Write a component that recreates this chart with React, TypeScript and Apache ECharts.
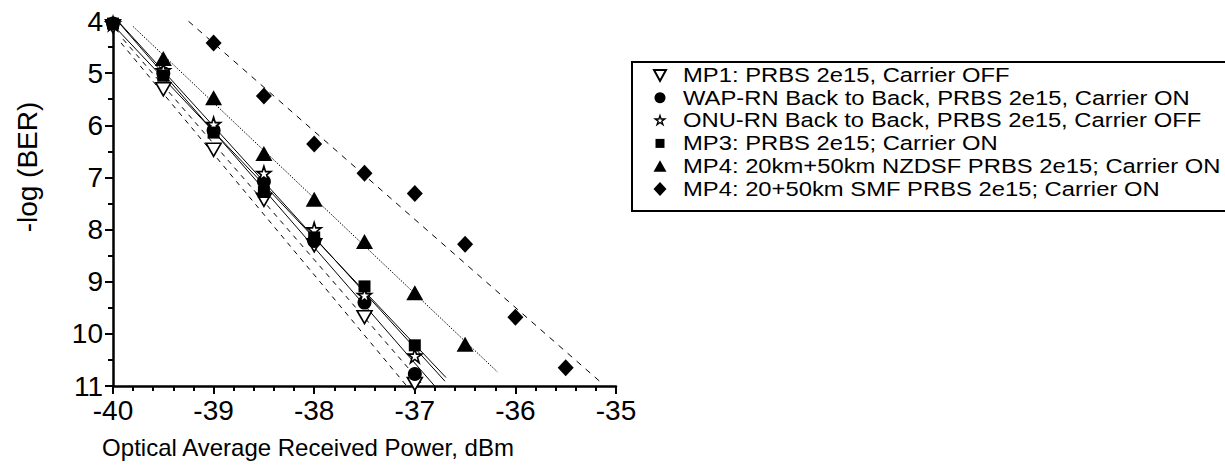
import React, { useEffect, useRef } from "react";
import * as echarts from "echarts";

// ---- data ----
const xMP1 = [-40, -39.5, -39, -38.5, -38, -37.5, -37];
const yMP1 = [4.1, 5.31, 6.47, 7.43, 8.3, 9.68, 10.96];

const xWAP = [-40, -39.5, -39, -38.5, -38, -37.5, -37];
const yWAP = [4.05, 5.0, 6.1, 7.08, 8.22, 9.4, 10.77];

const xONU = [-40, -39.5, -39, -38.5, -38, -37.5, -37];
const yONU = [4.05, 4.95, 5.98, 6.92, 8.0, 9.26, 10.42];

const xMP3 = [-40, -39.5, -39, -38.5, -38, -37.5, -37];
const yMP3 = [4.05, 5.05, 6.14, 7.28, 8.15, 9.09, 10.22];

const xNZDSF = [-39.5, -39, -38.5, -38, -37.5, -37, -36.5];
const yNZDSF = [4.72, 5.47, 6.54, 7.42, 8.23, 9.21, 10.2];

const xSMF = [-39, -38.5, -38, -37.5, -37, -36.5, -36, -35.5];
const ySMF = [4.42, 5.44, 6.36, 6.92, 7.31, 8.28, 9.68, 10.65];

// second dashed guide line (end points)
const xGuide = [-39.92, -37.08];
const yGuide = [4.42, 11.0];

const seriesNames = [
  "MP1: PRBS 2e15, Carrier OFF",
  "WAP-RN Back to Back, PRBS 2e15, Carrier ON",
  "ONU-RN Back to Back, PRBS 2e15, Carrier OFF",
  "MP3: PRBS 2e15; Carrier ON",
  "MP4: 20km+50km NZDSF PRBS 2e15; Carrier ON",
  "MP4: 20+50km SMF PRBS 2e15; Carrier ON",
];

// x extent of each linear-fit line
const fitRangeMP1 = [-39.9, -36.9];
const fitRangeWAP = [-40, -36.8];
const fitRangeONU = [-40, -36.7];
const fitRangeMP3 = [-40, -36.69];
const fitRangeNZDSF = [-39.8, -36.18];
const fitRangeSMF = [-39.25, -35.15];

const xTicks = [-40, -39, -38, -37, -36, -35];
const yTicks = [4, 5, 6, 7, 8, 9, 10, 11];

// star outline in a 100x100 box
const STAR_PTS = [
  [50, 0], [61.2, 34.5], [97.6, 34.5], [68.2, 55.9], [79.4, 90.5],
  [50, 69.1], [20.6, 90.5], [31.8, 55.9], [2.4, 34.5], [38.8, 34.5],
];
const STAR = "path://M" + STAR_PTS.map((p) => p.join(",")).join(" L") + " Z";
const DOWN_TRI = "path://M0,0 L100,0 L50,90 Z";

function fit(xs: number[], ys: number[], range: number[]) {
  const n = xs.length;
  const mx = xs.reduce((a, b) => a + b, 0) / n;
  const my = ys.reduce((a, b) => a + b, 0) / n;
  let sxy = 0;
  let sxx = 0;
  for (let i = 0; i < n; i++) {
    sxy += (xs[i] - mx) * (ys[i] - my);
    sxx += (xs[i] - mx) * (xs[i] - mx);
  }
  const b = sxy / sxx;
  const a = my - b * mx;
  return range.map((x) => [x, a + b * x]);
}

const zip = (xs: number[], ys: number[]) => xs.map((x, i) => [x, ys[i]]);

export default function App() {
  const ref = useRef<HTMLDivElement>(null);
  useEffect(() => {
    if (!ref.current) return;
    const chart = echarts.init(ref.current, undefined, { renderer: "svg" });
    const font = "Liberation Sans, Arial, sans-serif";
    const black = "#000";
    const scatter = (
      name: string,
      data: number[][],
      symbol: string,
      size: number | number[],
      filled: boolean
    ) => ({
      type: "scatter",
      name,
      data,
      symbol,
      symbolSize: size,
      z: 5,
      itemStyle: filled
        ? { color: black, borderColor: black, borderWidth: 0, opacity: 1 }
        : { color: "#fff", borderColor: black, borderWidth: 1.6, opacity: 1 },
    });
    const fitLine = (data: number[][], type: any, width = 1) => ({
      type: "line",
      data,
      showSymbol: false,
      symbol: "none",
      silent: true,
      z: 3,
      lineStyle: { color: black, width, type },
    });

    // ---- legend drawn as graphic elements ----
    const LX = 632;
    const LY = 62;
    const symX = 660;
    const textX = 683;
    const row0 = 75;
    const rowH = 22.8;
    const filled = { fill: black, stroke: black, lineWidth: 0 };
    const open = { fill: "#fff", stroke: black, lineWidth: 2 };
    const legendKey = (i: number, cy: number): any => {
      const cx = symX;
      switch (i) {
        case 0:
          return { type: "polygon", shape: { points: [[cx - 6, cy - 5], [cx + 6, cy - 5], [cx, cy + 6]] }, style: open };
        case 1:
          return { type: "circle", shape: { cx, cy, r: 5.5 }, style: filled };
        case 2:
          return {
            type: "polygon",
            shape: { points: STAR_PTS.map((p) => [cx + (p[0] - 50) * 0.1, cy + (p[1] - 50) * 0.1]) },
            style: { fill: "#fff", stroke: black, lineWidth: 1.4 },
          };
        case 3:
          return { type: "rect", shape: { x: cx - 4.5, y: cy - 4.5, width: 9, height: 9 }, style: filled };
        case 4:
          return { type: "polygon", shape: { points: [[cx - 6.5, cy + 5.5], [cx + 6.5, cy + 5.5], [cx, cy - 6]] }, style: filled };
        default:
          return { type: "polygon", shape: { points: [[cx, cy - 7], [cx + 6.5, cy], [cx, cy + 7], [cx - 6.5, cy]] }, style: filled };
      }
    };
    const legendGraphics: any[] = [
      {
        type: "rect",
        shape: { x: LX, y: LY, width: 620, height: 149 },
        style: { fill: "#fff", stroke: black, lineWidth: 2 },
        z: 10,
      },
    ];
    seriesNames.forEach((name, i) => {
      const cy = row0 + i * rowH;
      legendGraphics.push({ ...legendKey(i, cy), z: 11 });
      legendGraphics.push({
        type: "text",
        x: textX,
        y: cy,
        scaleX: 1.22,
        z: 11,
        style: {
          text: name,
          font: `19.5px ${font}`,
          fill: black,
          textAlign: "left",
          textVerticalAlign: "middle",
        },
      });
    });

    chart.setOption({
      animation: false,
      backgroundColor: "#fff",
      textStyle: { fontFamily: font },
      grid: { left: 113, right: 1225 - 616, top: 21, bottom: 472 - 386 },
      xAxis: {
        type: "value",
        min: xTicks[0],
        max: xTicks[xTicks.length - 1],
        interval: 1,
        splitLine: { show: false },
        axisLine: { onZero: false, lineStyle: { color: black, width: 2.5 } },
        axisTick: { length: 8, lineStyle: { color: black, width: 2 } },
        minorTick: { show: true, splitNumber: 5, length: 5, lineStyle: { color: black, width: 2 } },
        axisLabel: { color: black, fontSize: 28, margin: 10, fontFamily: font },
      },
      yAxis: {
        type: "value",
        inverse: true,
        min: yTicks[0],
        max: yTicks[yTicks.length - 1],
        interval: 1,
        splitLine: { show: false },
        axisLine: { onZero: false, lineStyle: { color: black, width: 2.5 } },
        axisTick: { length: 8, lineStyle: { color: black, width: 2 } },
        minorTick: { show: true, splitNumber: 2, length: 5, lineStyle: { color: black, width: 2 } },
        axisLabel: { color: black, fontSize: 28, margin: 10, fontFamily: font },
      },
      graphic: [
        {
          type: "text",
          x: 27,
          y: 167,
          rotation: Math.PI / 2,
          style: {
            text: "-log (BER)",
            font: `28px ${font}`,
            fill: black,
            textAlign: "center",
            textVerticalAlign: "middle",
          },
        },
        {
          type: "text",
          x: 308,
          y: 447,
          style: {
            text: "Optical Average Received Power, dBm",
            font: `24px ${font}`,
            fill: black,
            textAlign: "center",
            textVerticalAlign: "middle",
          },
        },
        ...legendGraphics,
      ],
      series: [
        fitLine(fit(xMP1, yMP1, fitRangeMP1), [5, 5]),
        fitLine(zip(xGuide, yGuide), [5, 5]),
        fitLine(fit(xWAP, yWAP, fitRangeWAP), "solid"),
        fitLine(fit(xONU, yONU, fitRangeONU), "solid"),
        fitLine(fit(xMP3, yMP3, fitRangeMP3), "solid"),
        fitLine(fit(xNZDSF, yNZDSF, fitRangeNZDSF), [1.5, 1.5]),
        fitLine(fit(xSMF, ySMF, fitRangeSMF), [6, 6]),
        scatter(seriesNames[0], zip(xMP1, yMP1), DOWN_TRI, [15, 13], false),
        scatter(seriesNames[1], zip(xWAP, yWAP), "circle", 14, true),
        scatter(seriesNames[2], zip(xONU, yONU), STAR, 14, false),
        scatter(seriesNames[3], zip(xMP3, yMP3), "rect", 12, true),
        scatter(seriesNames[4], zip(xNZDSF, yNZDSF), "triangle", [17, 15], true),
        scatter(seriesNames[5], zip(xSMF, ySMF), "diamond", [16, 17], true),
      ],
    });
    return () => chart.dispose();
  }, []);
  return (
    <div
      ref={ref}
      style={{ position: "absolute", left: 0, top: 0, width: 1225, height: 472 }}
    />
  );
}
